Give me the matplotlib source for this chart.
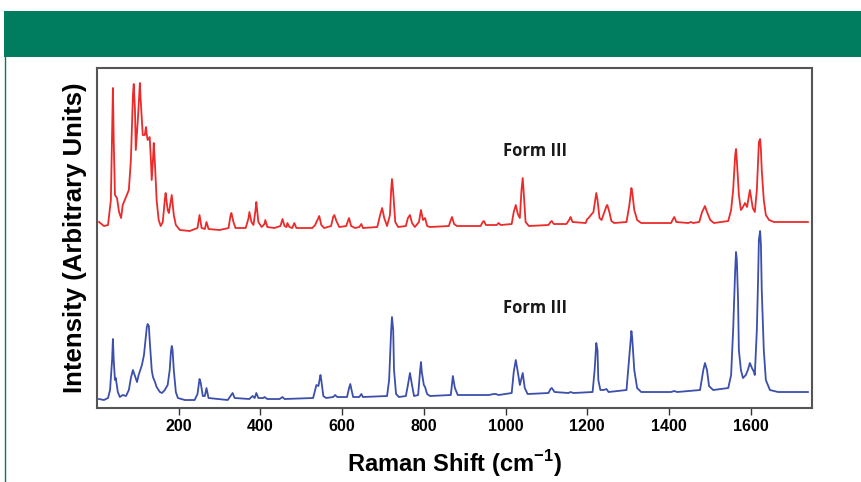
import matplotlib.pyplot as plt
from matplotlib.patches import Rectangle
from matplotlib.lines import Line2D

# Raman shift (cm-1) / intensity (arbitrary units) vertices
red_shift = [5, 17, 27, 34, 37, 39, 41, 44, 49, 54, 59, 63, 68, 73, 78, 83, 88, 90, 93, 95,
             100, 105, 107, 112, 117, 120, 122, 124, 129, 132, 134, 137, 139, 142, 146, 151,
             156, 161, 166, 168, 173, 176, 181, 183, 188, 193, 203, 227, 246, 251, 256, 264,
             268, 273, 300, 322, 327, 329, 334, 339, 364, 371, 373, 378, 383, 388, 390, 395,
             403, 410, 412, 417, 434, 449, 454, 459, 464, 466, 471, 478, 483, 488, 527, 534,
             537, 542, 544, 549, 556, 573, 578, 581, 586, 593, 610, 615, 617, 622, 632, 642,
             647, 651, 686, 693, 698, 703, 710, 717, 720, 722, 725, 730, 737, 756, 761, 766,
             771, 778, 788, 793, 798, 803, 808, 815, 861, 866, 869, 874, 881, 939, 944, 947,
             952, 978, 983, 988, 1015, 1020, 1025, 1030, 1035, 1039, 1042, 1044, 1049, 1057,
             1105, 1110, 1113, 1118, 1149, 1157, 1159, 1164, 1196, 1200, 1203, 1215, 1220,
             1222, 1225, 1230, 1235, 1242, 1247, 1249, 1254, 1259, 1266, 1296, 1303, 1308,
             1310, 1315, 1322, 1332, 1405, 1410, 1413, 1418, 1447, 1454, 1459, 1474, 1481,
             1488, 1493, 1501, 1510, 1545, 1552, 1557, 1562, 1564, 1566, 1571, 1576, 1581,
             1586, 1591, 1596, 1598, 1601, 1605, 1610, 1615, 1618, 1620, 1623, 1625, 1627,
             1632, 1637, 1645, 1657, 1740]
red_int = [186, 182, 183, 208, 278, 320, 268, 213, 210, 196, 190, 203, 208, 213, 218, 248, 313,
           324, 298, 258, 288, 325, 308, 273, 273, 281, 273, 268, 271, 248, 228, 248, 265, 243,
           208, 188, 182, 186, 208, 215, 198, 195, 208, 213, 193, 183, 178, 177, 180, 193, 180,
           179, 186, 179, 178, 180, 193, 195, 186, 180, 180, 190, 196, 186, 183, 198, 206, 186,
           181, 184, 188, 181, 180, 182, 189, 182, 181, 185, 181, 180, 185, 180, 180, 183, 186,
           190, 192, 183, 180, 182, 191, 193, 187, 181, 182, 188, 190, 182, 180, 181, 184, 180,
           181, 193, 200, 190, 182, 193, 218, 229, 216, 186, 181, 182, 190, 193, 185, 181, 186,
           198, 188, 190, 182, 181, 182, 188, 191, 184, 182, 182, 186, 187, 183, 183, 185, 183,
           184, 196, 203, 194, 190, 218, 230, 218, 186, 182, 183, 186, 187, 184, 184, 189, 191,
           186, 185, 189, 190, 196, 210, 215, 208, 190, 188, 196, 202, 203, 196, 187, 185, 186,
           203, 220, 216, 198, 188, 185, 185, 189, 191, 186, 185, 186, 185, 186, 196, 202, 196,
           188, 185, 187, 198, 218, 253, 259, 248, 213, 198, 201, 205, 201, 213, 218, 210, 200,
           196, 218, 248, 266, 269, 258, 238, 208, 193, 188, 186, 186]

blue_shift = [5, 17, 27, 32, 37, 39, 41, 44, 46, 51, 56, 63, 71, 78, 83, 88, 93, 98, 102, 110,
              115, 120, 122, 124, 127, 129, 134, 137, 142, 146, 154, 159, 166, 173, 178, 181,
              183, 185, 188, 193, 198, 215, 239, 246, 251, 254, 259, 264, 268, 273, 320, 327,
              332, 337, 373, 378, 381, 386, 390, 395, 407, 410, 417, 447, 454, 459, 529, 534,
              537, 542, 547, 549, 554, 561, 578, 583, 588, 612, 617, 620, 622, 627, 642, 647,
              651, 710, 715, 720, 722, 725, 727, 732, 739, 756, 761, 766, 771, 776, 786, 791,
              793, 795, 800, 803, 808, 815, 866, 871, 876, 883, 910, 959, 971, 976, 983, 1015,
              1020, 1025, 1030, 1035, 1039, 1042, 1047, 1054, 1105, 1110, 1113, 1120, 1154,
              1159, 1166, 1213, 1218, 1222, 1225, 1227, 1232, 1240, 1247, 1252, 1296, 1303,
              1308, 1310, 1315, 1322, 1332, 1405, 1413, 1420, 1476, 1484, 1488, 1493, 1498,
              1508, 1545, 1552, 1557, 1562, 1564, 1566, 1569, 1571, 1576, 1581, 1588, 1593,
              1598, 1603, 1608, 1610, 1615, 1618, 1620, 1623, 1625, 1627, 1632, 1637, 1647,
              1667, 1740]
blue_int = [9, 8, 10, 18, 48, 69, 48, 28, 30, 16, 11, 13, 12, 18, 30, 38, 32, 26, 33, 43, 53,
            73, 81, 84, 82, 68, 38, 31, 26, 21, 16, 15, 18, 23, 38, 56, 62, 58, 38, 16, 10, 8,
            8, 14, 29, 25, 12, 12, 20, 10, 8, 12, 15, 10, 9, 11, 12, 10, 15, 10, 10, 11, 9, 9,
            11, 9, 10, 18, 23, 22, 33, 28, 12, 10, 11, 13, 11, 11, 20, 24, 20, 11, 11, 14, 11,
            12, 28, 78, 91, 78, 38, 14, 11, 12, 23, 35, 23, 12, 13, 38, 46, 36, 23, 21, 14, 12,
            13, 32, 20, 13, 13, 13, 14, 14, 13, 15, 36, 48, 36, 23, 30, 35, 20, 14, 15, 19, 20,
            16, 15, 16, 15, 16, 38, 65, 58, 28, 18, 18, 19, 16, 18, 53, 77, 70, 38, 20, 16, 16,
            17, 16, 18, 38, 45, 38, 22, 18, 20, 33, 78, 138, 156, 148, 108, 58, 38, 30, 33, 38,
            45, 40, 36, 33, 78, 128, 168, 177, 163, 118, 58, 28, 18, 16, 16]

x_ticks = [200, 400, 600, 800, 1000, 1200, 1400, 1600]
label_text = "Form III"

fig = plt.figure(figsize=(8.62, 4.82), dpi=100)

# green header band and thin left border
fig.patches.append(Rectangle((0.0046, 0.8817), 0.9954, 0.0954, transform=fig.transFigure,
                             facecolor="#007d5f", edgecolor="none"))
fig.lines.append(Line2D([0.0058, 0.0058], [0.0, 0.8817], transform=fig.transFigure,
                        color="#007d5f", lw=1.0))

ax = fig.add_axes([0.1125, 0.1535, 0.8295, 0.7054])
ax.plot(red_shift, red_int, color="#ec2a2a", lw=1.3)
ax.plot(blue_shift, blue_int, color="#3b4fab", lw=1.3)

ax.text(1072, 257, label_text, ha="center", va="center", fontsize=12,
        fontweight="bold", family="Open Sans", color="#1a1a1a")
ax.text(1072, 100, label_text, ha="center", va="center", fontsize=12,
        fontweight="bold", family="Open Sans", color="#1a1a1a")

ax.set_xlim(0, 1750)
ax.set_ylim(0, 340)
ax.set_xticks(x_ticks)
ax.set_yticks([])
ax.tick_params(axis="x", direction="out", length=5, width=1, color="#333333", pad=3)
for lab in ax.get_xticklabels():
    lab.set_fontweight("bold")
    lab.set_fontsize(11.5)
    lab.set_family(["Liberation Sans Narrow", "Liberation Sans"])
for s in ax.spines.values():
    s.set_color("#555555")
    s.set_linewidth(1.5)

ax.set_xlabel("Raman Shift (cm$^{\\mathregular{-1}}$)", fontsize=17, fontweight="bold",
              family="Liberation Sans", labelpad=10)
ax.set_ylabel("Intensity (Arbitrary Units)", fontsize=18.5, fontweight="bold",
              family="Liberation Sans", labelpad=7)

fig.savefig("out.png", dpi=100)
